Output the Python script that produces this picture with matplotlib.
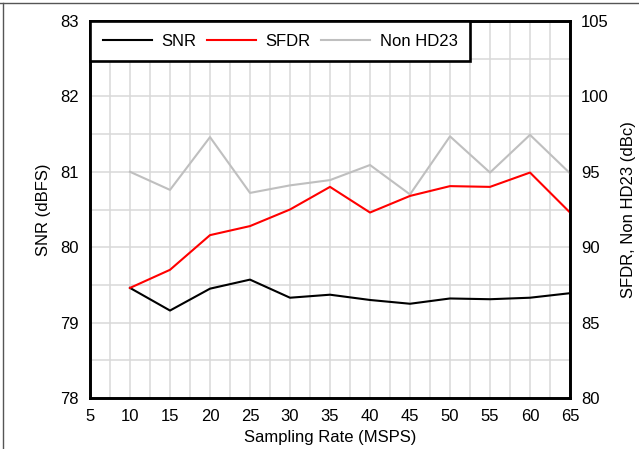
import matplotlib
matplotlib.use("Agg")
import matplotlib.pyplot as plt
from matplotlib.lines import Line2D
from matplotlib.ticker import MultipleLocator

plt.rcParams['font.family'] = ['Liberation Sans', 'DejaVu Sans']

# Sampling rate sweep (MSPS)
rate = [10, 15, 20, 25, 30, 35, 40, 45, 50, 55, 60, 65]
# Signal-to-noise ratio (dBFS), left axis
snr = [79.46, 79.16, 79.45, 79.57, 79.33, 79.37, 79.30, 79.25, 79.32, 79.31, 79.33, 79.39]
# Spurious-free dynamic range (dBc), right axis
sfdr = [87.3, 88.5, 90.8, 91.4, 92.5, 94.0, 92.3, 93.4, 94.05, 94.0, 94.95, 92.3]
# Worst spur excluding HD2/HD3 (dBc), right axis
non_hd23 = [95.0, 93.8, 97.3, 93.6, 94.1, 94.45, 95.45, 93.5, 97.35, 94.95, 97.45, 94.9]

x_ticks = [5, 10, 15, 20, 25, 30, 35, 40, 45, 50, 55, 60, 65]

fig = plt.figure(figsize=(6.39, 4.49), dpi=100)
ax = fig.add_axes([90 / 639, 1 - 398 / 449, 480 / 639, 377 / 449])
ax2 = ax.twinx()

grid_c = '#d9d9d9'
ax.set_xlim(5, 65)
ax.set_ylim(78, 83)
ax2.set_ylim(80, 105)
ax.set_xticks(x_ticks)
ax.xaxis.set_minor_locator(MultipleLocator(2.5))
ax.set_yticks([78, 79, 80, 81, 82, 83])
ax.yaxis.set_minor_locator(MultipleLocator(0.5))
ax2.set_yticks([80, 85, 90, 95, 100, 105])

ax.grid(True, which='both', color=grid_c, linewidth=1.1)
ax.set_axisbelow(True)

for a in (ax, ax2):
    a.tick_params(which='both', length=0, labelsize=12, pad=8)
    for s in a.spines.values():
        s.set_linewidth(1.9)
        s.set_color('black')

ax.plot(rate, snr, color='black', linewidth=1.5, zorder=3)
ax2.plot(rate, non_hd23, color='#bfbfbf', linewidth=1.5)
ax2.plot(rate, sfdr, color='#ff0000', linewidth=1.5)

ax.set_xlabel('Sampling Rate (MSPS)', fontsize=12, labelpad=4)
ax.set_ylabel('SNR (dBFS)', fontsize=12, labelpad=6.5)
ax2.set_ylabel('SFDR, Non HD23 (dBc)', fontsize=12, labelpad=8.5)

handles = [Line2D([], [], color='black', linewidth=1.5),
           Line2D([], [], color='#ff0000', linewidth=1.5),
           Line2D([], [], color='#bfbfbf', linewidth=1.5)]
leg = ax2.legend(handles, ['SNR', 'SFDR', 'Non HD23'], loc='upper left',
                 bbox_to_anchor=(0, 1), borderaxespad=0, ncol=3, fontsize=12,
                 handlelength=2.95, handletextpad=0.58, columnspacing=0.62,
                 borderpad=0.75, fancybox=False, framealpha=1, edgecolor='black')
leg.get_frame().set_linewidth(1.9)

# thin outer frame along top and left edges
fig.add_artist(Line2D([0, 1], [1 - 3 / 449, 1 - 3 / 449], color='#555555', linewidth=1.0))
fig.add_artist(Line2D([3 / 639, 3 / 639], [0, 1 - 3 / 449], color='#555555', linewidth=1.0))

fig.savefig('out.png', dpi=100)
